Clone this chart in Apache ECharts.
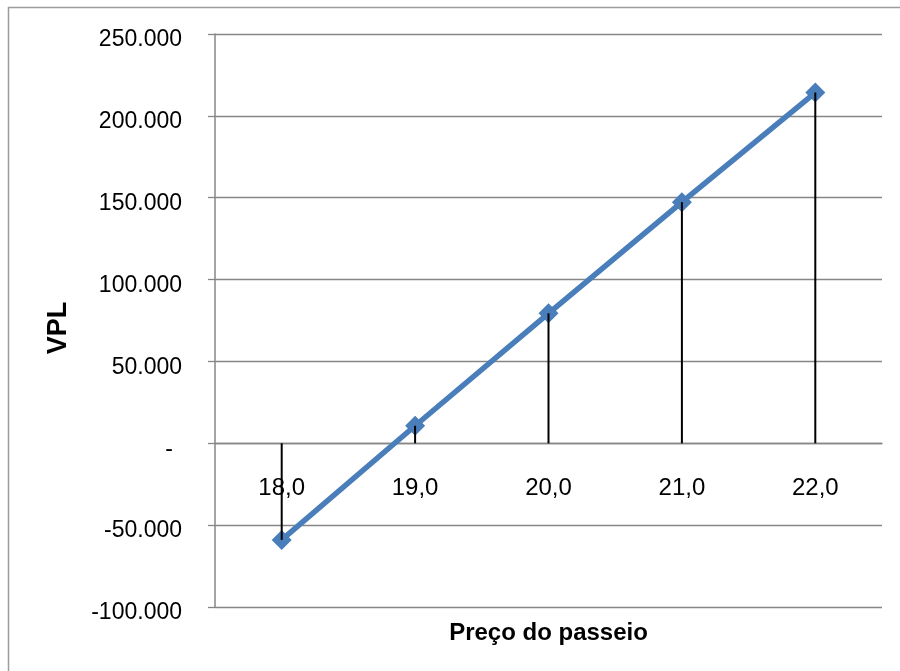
<!DOCTYPE html>
<html>
<head>
<meta charset="utf-8">
<script src="https://cdn.jsdelivr.net/npm/echarts@6/dist/echarts.min.js"></script>
<style>
  html, body { margin: 0; padding: 0; background: #ffffff; }
  #chart { width: 900px; height: 671px; }
</style>
</head>
<body>
<div id="chart"></div>
<script>
// Ticket price (category axis) and NPV for each price
const precos = ['18,0', '19,0', '20,0', '21,0', '22,0'];
const vpl = [-59000, 10700, 79400, 147300, 214200];

// Value axis range
const yMin = -100000;
const yMax = 250000;
const yStep = 50000;

const FONT = '"Liberation Sans", Arial, sans-serif';

// plot area in pixels
const GRID_TOP = 34;
const GRID_BOTTOM_Y = 607;
// pixel row of the zero value, where the category axis sits
const zeroY = GRID_TOP + (GRID_BOTTOM_Y - GRID_TOP) * (yMax - 0) / (yMax - yMin);

// Brazilian thousands format; zero shown as a dash (accounting style)
function formatMil(v) {
  if (v === 0) return '{z|-}';
  const s = Math.abs(v).toString().replace(/\B(?=(\d{3})+(?!\d))/g, '.');
  return (v < 0 ? '-' : '') + s;
}

const chart = echarts.init(document.getElementById('chart'), null, { renderer: 'canvas' });

chart.setOption({
  animation: false,
  backgroundColor: '#ffffff',
  graphic: [{
    type: 'rect',
    shape: { x: 8.5, y: 7.5, width: 1000, height: 1000 },
    style: { fill: 'none', stroke: '#9c9c9c', lineWidth: 1.5 },
    silent: true
  }],
  grid: {
    left: 215, right: 18, top: GRID_TOP, bottom: 671 - GRID_BOTTOM_Y,
    containLabel: false, outerBoundsMode: 'none'
  },
  xAxis: {
    type: 'category',
    data: precos,
    boundaryGap: true,
    position: 'bottom',
    offset: -(GRID_BOTTOM_Y - zeroY),
    name: 'Preço do passeio',
    nameLocation: 'middle',
    nameGap: 178,
    nameTextStyle: { fontFamily: FONT, fontSize: 24, fontWeight: 'bold', color: '#000' },
    axisLine: { show: true, onZero: false, lineStyle: { color: '#868686', width: 1.3 } },
    axisTick: { show: false },
    axisLabel: { margin: 33, fontFamily: FONT, fontSize: 24, color: '#000' },
    splitLine: { show: false }
  },
  yAxis: {
    type: 'value',
    min: yMin,
    max: yMax,
    interval: yStep,
    name: 'VPL',
    nameLocation: 'middle',
    nameRotate: 90,
    nameGap: 143,
    nameTextStyle: { fontFamily: FONT, fontSize: 27, fontWeight: 'bold', color: '#000', padding: [0, 15, 0, 0] },
    axisLine: { show: true, lineStyle: { color: '#868686', width: 1.5 } },
    axisTick: { show: true, inside: false, length: 7, lineStyle: { color: '#868686', width: 1.3 } },
    axisLabel: {
      margin: 33,
      padding: [12, 0, 0, 0],
      fontFamily: FONT,
      fontSize: 23,
      color: '#000',
      formatter: formatMil,
      rich: { z: { fontFamily: FONT, fontSize: 23, color: '#000', padding: [0, 9, 0, 0] } }
    },
    splitLine: { show: true, lineStyle: { color: '#868686', width: 1.3 } }
  },
  series: [
    {
      name: 'VPL',
      type: 'line',
      data: vpl,
      z: 2,
      symbol: 'diamond',
      symbolSize: 20,
      lineStyle: { color: '#4A7EBB', width: 5.5 },
      itemStyle: { color: '#4A7EBB' }
    },
    {
      // drop lines from each point to the zero line
      name: 'linhas',
      type: 'bar',
      data: vpl,
      z: 5,
      barWidth: 2,
      itemStyle: { color: '#000000' }
    }
  ]
});
</script>
</body>
</html>
